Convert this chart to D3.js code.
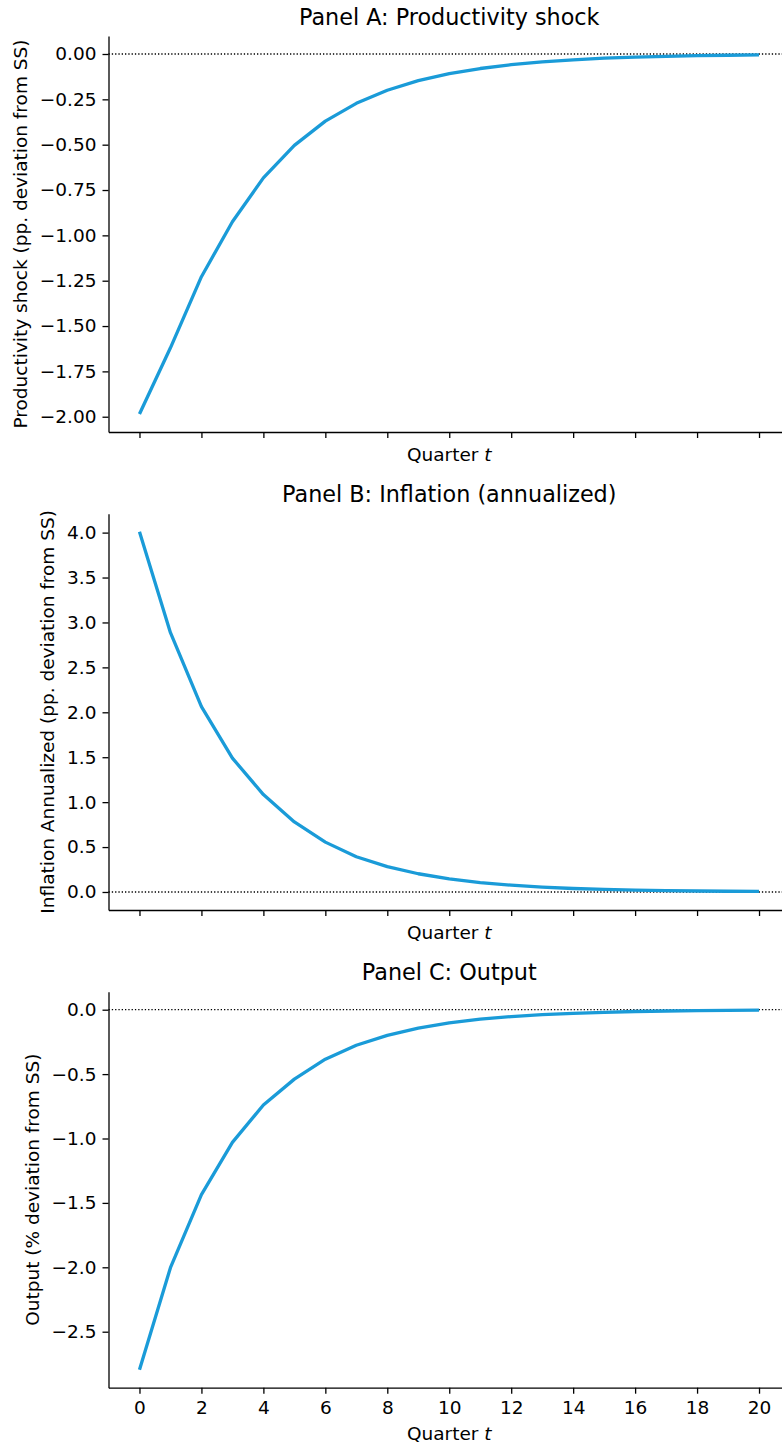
<!DOCTYPE html>
<html>
<head>
<meta charset="utf-8">
<script src="https://cdn.jsdelivr.net/npm/d3@7"></script>
<style>
  html, body { margin: 0; padding: 0; background: #fff; }
  svg { display: block; font-family: "DejaVu Sans", sans-serif; }
</style>
</head>
<body>
<svg id="chart" width="782" height="1445"></svg>
<script>
// Impulse responses over 21 quarters
const quarters = d3.range(0, 21);
const productivity = [-1.985, -1.62, -1.228, -0.925, -0.683, -0.504, -0.370, -0.272, -0.200, -0.147,
  -0.108, -0.080, -0.059, -0.043, -0.032, -0.023, -0.017, -0.013, -0.009, -0.007, -0.005];
const inflation = [4.01, 2.886, 2.064, 1.49, 1.084, 0.78, 0.555, 0.392, 0.282, 0.203,
  0.146, 0.105, 0.076, 0.054, 0.039, 0.028, 0.020, 0.015, 0.011, 0.008, 0.006];
const output = [-2.795, -2.003, -1.436, -1.03, -0.74, -0.539, -0.384, -0.276, -0.199, -0.143,
  -0.103, -0.074, -0.053, -0.038, -0.028, -0.020, -0.014, -0.010, -0.007, -0.005, -0.004];
const xTicks = d3.range(0, 21, 2);
const yTicksA = d3.range(0, 9).map(i => -0.25 * i);
const yTicksB = d3.range(0, 9).map(i => 0.5 * i);
const yTicksC = d3.range(0, 6).map(i => -0.5 * i);

const panels = [
  { title: "Panel A: Productivity shock", ylabel: "Productivity shock (pp. deviation from SS)",
    values: productivity, ticks: yTicksA, fmt: ".2f", top: 36, bottom: 432, showX: false },
  { title: "Panel B: Inflation (annualized)", ylabel: "Inflation Annualized (pp. deviation from SS)",
    values: inflation, ticks: yTicksB, fmt: ".1f", top: 513.7, bottom: 910, showX: false },
  { title: "Panel C: Output", ylabel: "Output (% deviation from SS)",
    values: output, ticks: yTicksC, fmt: ".1f", top: 991.7, bottom: 1387.7, showX: true }
];

const svg = d3.select("#chart");
const left = 108.5, right = 790;
const lineColor = "#1a9bd8";
const tickFont = 18.5, labelFont = 18.5, titleFont = 22.3;

const x = d3.scaleLinear().domain([-1, 21]).range([left, right]);

panels.forEach(p => {
  const [lo, hi] = d3.extent(p.values.concat([0]));
  const pad = (hi - lo) * 0.05;
  const y = d3.scaleLinear().domain([lo - pad, hi + pad]).range([p.bottom, p.top]);
  const g = svg.append("g");

  // zero reference line
  g.append("line")
    .attr("x1", left).attr("x2", right)
    .attr("y1", y(0)).attr("y2", y(0))
    .attr("stroke", "#000").attr("stroke-width", 1.3)
    .attr("stroke-dasharray", "1.3,2");

  // response path
  g.append("path")
    .datum(quarters.map((q, i) => [q, p.values[i]]))
    .attr("fill", "none")
    .attr("stroke", lineColor)
    .attr("stroke-width", 3.3)
    .attr("stroke-linejoin", "round")
    .attr("d", d3.line().x(d => x(d[0])).y(d => y(d[1])));

  // y axis
  const yAxis = g.append("g")
    .attr("transform", `translate(${left},0)`)
    .call(d3.axisLeft(y).tickValues(p.ticks).tickFormat(d3.format(p.fmt)).tickSize(6).tickPadding(6).tickSizeOuter(0));
  yAxis.select(".domain").attr("stroke-width", 1.3);
  yAxis.selectAll(".tick line").attr("stroke-width", 1.3);
  yAxis.selectAll("text").attr("font-size", tickFont).attr("fill", "#000").attr("font-family", "DejaVu Sans");

  // x axis
  const xAxis = g.append("g")
    .attr("transform", `translate(0,${p.bottom})`)
    .call(d3.axisBottom(x).tickValues(xTicks).tickSize(6).tickPadding(7).tickSizeOuter(0)
      .tickFormat(p.showX ? d3.format("d") : () => ""));
  xAxis.select(".domain").attr("stroke-width", 1.3);
  xAxis.selectAll(".tick line").attr("stroke-width", 1.3);
  xAxis.selectAll("text").attr("font-size", tickFont).attr("fill", "#000").attr("font-family", "DejaVu Sans");

  // x label
  const xl = g.append("text")
    .attr("x", (left + right) / 2)
    .attr("y", p.showX ? p.bottom + 52.5 : p.bottom + 29)
    .attr("text-anchor", "middle")
    .attr("font-size", labelFont);
  xl.append("tspan").text("Quarter ");
  xl.append("tspan").attr("font-style", "italic").text("t");

  // y label, placed just left of the tick labels
  const tickW = yAxis.node().getBBox().width;
  const lx = left - tickW - 12.5;
  g.append("text")
    .attr("transform", `translate(${lx},${(p.top + p.bottom) / 2}) rotate(-90)`)
    .attr("text-anchor", "middle")
    .attr("font-size", labelFont)
    .text(p.ylabel);

  // title
  g.append("text")
    .attr("x", (left + right) / 2)
    .attr("y", p.top - 11.5)
    .attr("text-anchor", "middle")
    .attr("font-size", titleFont)
    .text(p.title);
});
</script>
</body>
</html>
